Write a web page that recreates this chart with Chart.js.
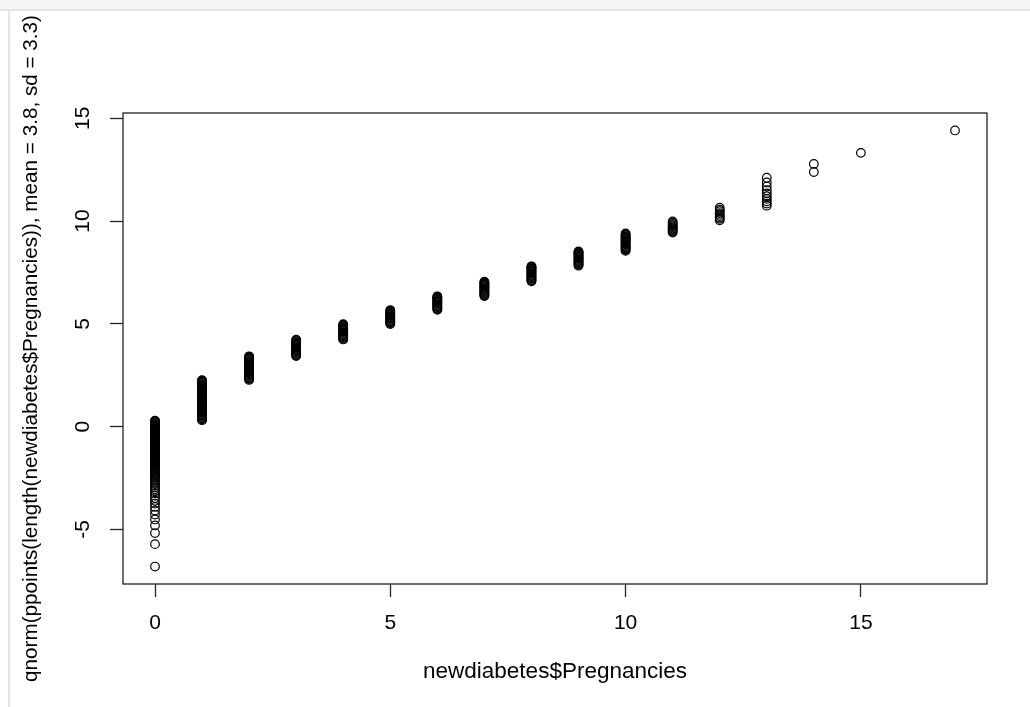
<!DOCTYPE html>
<html>
<head>
<meta charset="utf-8">
<script src="https://cdn.jsdelivr.net/npm/chart.js@4/dist/chart.umd.min.js"></script>
<style>
  html, body { margin: 0; padding: 0; background: #ffffff; }
  #wrap { position: relative; width: 1030px; height: 707px; overflow: hidden; }
  #topband { position: absolute; left: 0; top: 0; width: 1030px; height: 9px;
             background: #f3f5f7; border-bottom: 2px solid #e3e6e9; }
  #leftline { position: absolute; left: 8px; top: 11px; width: 2px; height: 696px; background: #e3e6e9; }
  #plot { position: absolute; left: 0; top: 0; }
</style>
</head>
<body>
<div id="wrap">
  <div id="topband"></div>
  <div id="leftline"></div>
  <canvas id="plot" width="1030" height="707"></canvas>
</div>
<script>
// Number of pregnancies (sorted sample values) for each column of points
const pregnancies = [0, 1, 2, 3, 4, 5, 6, 7, 8, 9, 10, 11, 12, 13, 14, 15, 17];

// Theoretical normal quantiles (mean 3.8, sd 3.3) plotted against each value
const quantiles0 = [-6.81, -5.72, -5.18, -4.81, -4.52, -4.28, -4.08, -3.91, -3.75, -3.61,
  -3.48, -3.36, -3.25, -3.15, -3.05, -2.96, -2.88, -2.80, -2.72, -2.64, -2.57, -2.50,
  -2.44, -2.38, -2.32, -2.26, -2.20, -2.15, -2.10, -2.05, -2.00, -1.96, -1.92, -1.88,
  -1.84, -1.80, -1.76, -1.72, -1.68, -1.64, -1.60, -1.56, -1.52, -1.48, -1.44, -1.40,
  -1.36, -1.32, -1.28, -1.24, -1.20, -1.16, -1.12, -1.08, -1.04, -1.00, -0.96, -0.92,
  -0.88, -0.84, -0.80, -0.76, -0.72, -0.68, -0.64, -0.60, -0.56, -0.52, -0.48, -0.44,
  -0.40, -0.36, -0.32, -0.28, -0.24, -0.20, -0.16, -0.12, -0.08, -0.04, 0.00, 0.04,
  0.08, 0.12, 0.16, 0.20, 0.24, 0.27, 0.29];
const quantiles1 = [0.31, 0.35, 0.39, 0.43, 0.47, 0.51, 0.55, 0.59, 0.63, 0.67, 0.71,
  0.75, 0.79, 0.83, 0.87, 0.91, 0.95, 0.99, 1.03, 1.07, 1.11, 1.15, 1.19, 1.23, 1.27,
  1.31, 1.35, 1.39, 1.43, 1.47, 1.51, 1.55, 1.59, 1.63, 1.67, 1.71, 1.75, 1.79, 1.83,
  1.87, 1.91, 1.95, 1.99, 2.03, 2.07, 2.11, 2.15, 2.19, 2.23, 2.26];
const quantiles2 = [2.27, 2.31, 2.35, 2.39, 2.43, 2.47, 2.51, 2.55, 2.59, 2.63, 2.67,
  2.71, 2.75, 2.79, 2.83, 2.87, 2.91, 2.95, 2.99, 3.03, 3.07, 3.11, 3.15, 3.19, 3.23,
  3.27, 3.31, 3.35, 3.39, 3.42];
const quantiles3 = [3.43, 3.47, 3.51, 3.55, 3.59, 3.63, 3.67, 3.71, 3.75, 3.79, 3.83,
  3.87, 3.91, 3.95, 3.99, 4.03, 4.07, 4.11, 4.15, 4.19, 4.23];
const quantiles4 = [4.24, 4.28, 4.32, 4.36, 4.40, 4.44, 4.48, 4.52, 4.56, 4.60, 4.64,
  4.68, 4.72, 4.76, 4.80, 4.84, 4.88, 4.92, 4.95, 4.98];
const quantiles5 = [4.99, 5.03, 5.07, 5.11, 5.15, 5.19, 5.23, 5.27, 5.31, 5.35, 5.39,
  5.43, 5.47, 5.51, 5.55, 5.59, 5.63, 5.67];
const quantiles6 = [5.68, 5.72, 5.76, 5.80, 5.84, 5.88, 5.92, 5.96, 6.00, 6.04, 6.08,
  6.12, 6.16, 6.20, 6.24, 6.28, 6.31, 6.34];
const quantiles7 = [6.35, 6.39, 6.43, 6.47, 6.51, 6.55, 6.59, 6.63, 6.67, 6.71, 6.75,
  6.79, 6.83, 6.87, 6.91, 6.95, 6.99, 7.02, 7.05];
const quantiles8 = [7.07, 7.11, 7.15, 7.19, 7.23, 7.27, 7.31, 7.35, 7.39, 7.43, 7.47,
  7.51, 7.55, 7.59, 7.63, 7.67, 7.71, 7.75, 7.78, 7.80];
const quantiles9 = [7.83, 7.87, 7.91, 7.95, 7.99, 8.03, 8.07, 8.11, 8.15, 8.19, 8.23,
  8.27, 8.31, 8.35, 8.39, 8.43, 8.47, 8.50, 8.52];
const quantiles10 = [8.55, 8.59, 8.63, 8.67, 8.71, 8.75, 8.79, 8.83, 8.87, 8.91, 8.95,
  8.99, 9.03, 9.07, 9.11, 9.15, 9.19, 9.23, 9.27, 9.31, 9.35, 9.40];
const quantiles11 = [9.44, 9.49, 9.54, 9.59, 9.64, 9.69, 9.75, 9.80, 9.86, 9.92, 9.98];
const quantiles12 = [10.04, 10.11, 10.17, 10.24, 10.31, 10.39, 10.48, 10.56, 10.65];
const quantiles13 = [10.75, 10.85, 10.96, 11.08, 11.21, 11.35, 11.50, 11.68, 11.88, 12.11];
const quantiles14 = [12.39, 12.78];
const quantiles15 = [13.32];
const quantiles17 = [14.41];

const quantileColumns = [quantiles0, quantiles1, quantiles2, quantiles3, quantiles4,
  quantiles5, quantiles6, quantiles7, quantiles8, quantiles9, quantiles10, quantiles11,
  quantiles12, quantiles13, quantiles14, quantiles15, quantiles17];

// Axis tick labels
const xTickValues = [0, 5, 10, 15];
const yTickValues = [-5, 0, 5, 10, 15];

const xTitle = 'newdiabetes$Pregnancies';
const yTitle = 'qnorm(ppoints(length(newdiabetes$Pregnancies)), mean = 3.8, sd = 3.3)';

const points = [];
pregnancies.forEach((p, i) => {
  quantileColumns[i].forEach(q => points.push({ x: p, y: q }));
});

const FONT = '"Liberation Sans", Arial, sans-serif';

// frame around the plotting region
const boxPlugin = {
  id: 'plotBox',
  afterDraw(chart) {
    const { ctx, chartArea: a } = chart;
    ctx.save();
    ctx.strokeStyle = '#222';
    ctx.lineWidth = 1.3;
    ctx.strokeRect(a.left, a.top, a.right - a.left, a.bottom - a.top);
    ctx.restore();
  }
};

// vertical axis title, centred on the plotting region
const yTitlePlugin = {
  id: 'yTitle',
  afterDraw(chart) {
    const { ctx, chartArea: a } = chart;
    ctx.save();
    ctx.translate(31, (a.top + a.bottom) / 2);
    ctx.rotate(-Math.PI / 2);
    ctx.font = '20.7px ' + FONT;
    ctx.fillStyle = '#000';
    ctx.textAlign = 'center';
    ctx.textBaseline = 'middle';
    ctx.fillText(yTitle, 0, 0);
    ctx.restore();
  }
};

new Chart(document.getElementById('plot'), {
  type: 'scatter',
  data: {
    datasets: [{
      data: points,
      pointStyle: 'circle',
      pointRadius: 4.3,
      pointHoverRadius: 4.3,
      borderWidth: 1.2,
      borderColor: '#000',
      backgroundColor: 'rgba(0,0,0,0)'
    }]
  },
  options: {
    responsive: false,
    animation: false,
    events: [],
    layout: { padding: { left: 0, top: 113, right: 43, bottom: 0 } },
    plugins: { legend: { display: false }, tooltip: { enabled: false } },
    scales: {
      x: {
        type: 'linear',
        min: -0.68,
        max: 17.68,
        afterFit: s => { s.height = 123; },
        afterBuildTicks: s => { s.ticks = xTickValues.map(v => ({ value: v })); },
        grid: { drawOnChartArea: false, drawTicks: true, tickLength: 13, color: '#222', tickWidth: 1.3 },
        border: { display: false },
        ticks: { font: { family: FONT, size: 21 }, color: '#000', padding: 14, maxRotation: 0, autoSkip: false },
        title: { display: true, text: xTitle, font: { family: FONT, size: 22.5 }, color: '#000', padding: { top: 0, bottom: 22 } }
      },
      y: {
        type: 'linear',
        min: -7.66,
        max: 15.26,
        afterFit: s => { s.width = 123; },
        afterBuildTicks: s => { s.ticks = yTickValues.map(v => ({ value: v })); },
        grid: { drawOnChartArea: false, drawTicks: true, tickLength: 13, color: '#222', tickWidth: 1.3 },
        border: { display: false },
        ticks: { font: { family: FONT, size: 21 }, color: '#000', padding: 15, minRotation: 90, maxRotation: 90, crossAlign: 'center', autoSkip: false }
      }
    }
  },
  plugins: [boxPlugin, yTitlePlugin]
});
</script>
</body>
</html>
